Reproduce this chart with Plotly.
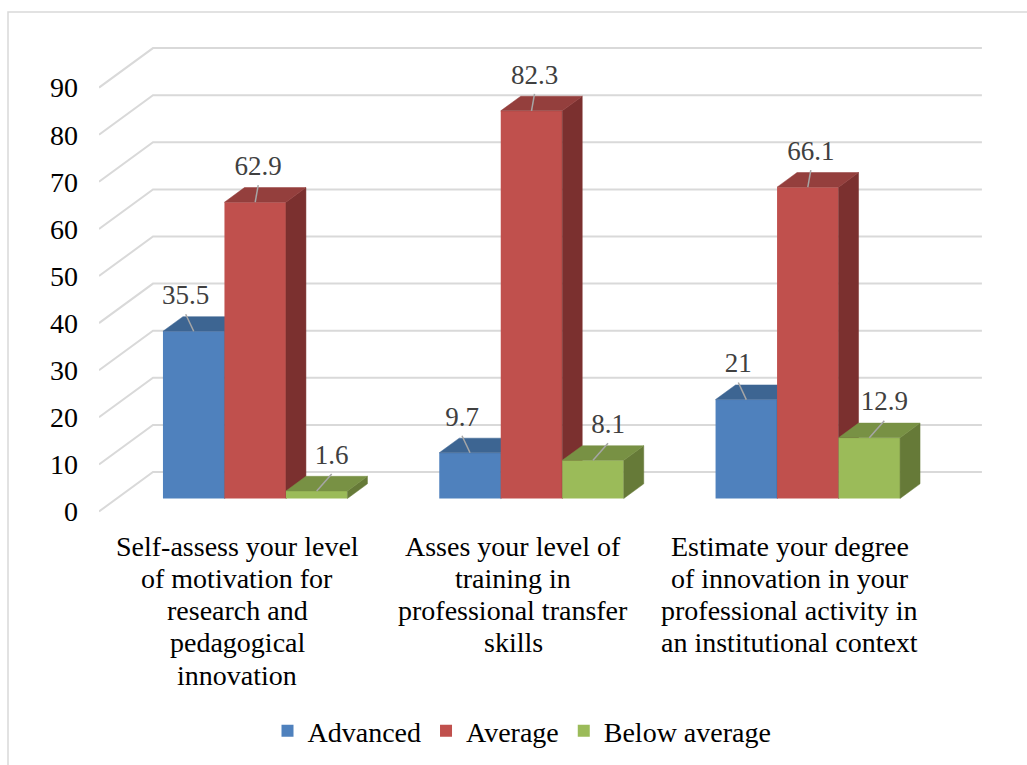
import plotly.graph_objects as go

# ---- data -------------------------------------------------------------
category_lines = [
    ["Self-assess your level", "of motivation for", "research and", "pedagogical", "innovation"],
    ["Asses your level of", "training in", "professional transfer", "skills"],
    ["Estimate your degree", "of innovation in your", "professional activity in", "an institutional context"],
]
series_names = ["Advanced", "Average", "Below average"]
advanced = [35.5, 9.7, 21]
average = [62.9, 82.3, 66.1]
below_average = [1.6, 8.1, 12.9]
y_ticks = [0, 10, 20, 30, 40, 50, 60, 70, 80, 90]

series_values = [advanced, average, below_average]

# ---- styling ----------------------------------------------------------
FONT = "Liberation Serif"
front_colors = ["#4F81BD", "#C0504D", "#9BBB59"]
top_colors = ["#3D6592", "#943F3D", "#789144"]
side_colors = ["#395D88", "#7B302F", "#667A38"]
GRID = "#D9D9D9"

W, H = 1027, 765
PL, PR, PT, PB = 99, 1000, 20, 530          # plot area in page pixels
X0, UPX = 99.0, 276.3                       # front-plane origin / px per category
Y0, VPX = 511.5, 4.71                       # front-plane zero / px per value unit

DXU = 54 / UPX                              # full depth offset, category units
DYV = 39.5 / VPX                            # full depth offset, value units
F0 = 0.33                                   # depth where bar fronts sit
DD = 0.37                                   # bar depth (fraction of full depth)
GROUP_L = 0.167                             # left edge of bar group in category
BW = 61.5 / UPX                             # bar width

x_range = [(PL - X0) / UPX, (PR - X0) / UPX]
y_range = [(Y0 - PB) / VPX, (Y0 - PT) / VPX]


def px_to_paper_x(px):
    return (px - PL) / (PR - PL)


def px_to_paper_y(py):
    return (PB - py) / (PB - PT)


fig = go.Figure()

# ---- back wall gridlines with receding diagonals -----------------------
gx, gy = [], []
for v in y_ticks:
    gx += [0, DXU, len(category_lines) + DXU, None]
    gy += [v, v + DYV, v + DYV, None]
fig.add_trace(go.Scatter(x=gx, y=gy, mode="lines", line=dict(color=GRID, width=2),
                         showlegend=False, hoverinfo="skip", xaxis="x", yaxis="y"))

# ---- 3D bars, one overlaid subplot per series (drawn left to right) ----
base = F0 * DYV
label_dx_px = [-8, 3, 15]
lab_x, lab_y, lab_t = [], [], []
lead_x, lead_y = [], []

for s, (name, vals) in enumerate(zip(series_names, series_values)):
    ax_id = str(s + 2)
    xa, ya = "x" + ax_id, "y" + ax_id
    centers = [i + GROUP_L + (s + 0.5) * BW + F0 * DXU for i in range(len(vals))]

    fig.add_trace(go.Bar(x=centers, y=vals, base=[base] * len(vals), width=BW,
                         name=name, marker=dict(color=front_colors[s], line=dict(width=0)),
                         xaxis=xa, yaxis=ya, hoverinfo="skip"))

    tx, ty, sx, sy = [], [], [], []
    for xc, v in zip(centers, vals):
        xl, xr, top = xc - BW / 2, xc + BW / 2, base + v
        ddx, ddy = DD * DXU, DD * DYV
        tx += [xl, xr, xr + ddx, xl + ddx, xl, None]
        ty += [top, top, top + ddy, top + ddy, top, None]
        sx += [xr, xr, xr + ddx, xr + ddx, xr, None]
        sy += [base, top, top + ddy, base + ddy, base, None]

        lx = xc + label_dx_px[s] / UPX
        ly = top + 34 / VPX
        lab_x.append(lx)
        lab_y.append(ly)
        lab_t.append(f"{v:g}")
        lead_x += [xc, lx, None]
        lead_y += [top, ly - 17 / VPX, None]

    fig.add_trace(go.Scatter(x=sx, y=sy, mode="lines", fill="toself",
                             fillcolor=side_colors[s], line=dict(color=side_colors[s], width=0.5),
                             showlegend=False, hoverinfo="skip", xaxis=xa, yaxis=ya))
    fig.add_trace(go.Scatter(x=tx, y=ty, mode="lines", fill="toself",
                             fillcolor=top_colors[s], line=dict(color=top_colors[s], width=0.5),
                             showlegend=False, hoverinfo="skip", xaxis=xa, yaxis=ya))

# ---- data labels with leader lines (top layer) -------------------------
fig.add_trace(go.Scatter(x=lead_x, y=lead_y, mode="lines", line=dict(color="#A6A6A6", width=1.5),
                         showlegend=False, hoverinfo="skip", xaxis="x5", yaxis="y5"))
fig.add_trace(go.Scatter(x=lab_x, y=lab_y, mode="text", text=lab_t,
                         textfont=dict(family=FONT, size=27, color="#404040"),
                         textposition="middle center", showlegend=False, hoverinfo="skip",
                         xaxis="x5", yaxis="y5"))

# ---- category labels, one annotation per line ---------------------------
annotations = []
for i, lines in enumerate(category_lines):
    cx = i + 0.5
    for k, line in enumerate(lines):
        annotations.append(dict(
            x=cx, xref="x", y=px_to_paper_y(546 + 32.3 * k), yref="paper",
            text=line, showarrow=False, xanchor="center", yanchor="middle",
            font=dict(family=FONT, size=28, color="#000000")))

hidden_x = dict(range=x_range, visible=False, overlaying="x", fixedrange=True)
hidden_y = dict(range=y_range, visible=False, overlaying="y", fixedrange=True)

fig.update_layout(
    width=W, height=H,
    margin=dict(l=PL, r=W - PR, t=PT, b=H - PB, pad=0, autoexpand=False),
    paper_bgcolor="white", plot_bgcolor="rgba(0,0,0,0)",
    font=dict(family=FONT, size=28, color="#000000"),
    hovermode=False,
    xaxis=dict(range=x_range, visible=False, fixedrange=True),
    yaxis=dict(range=y_range, tickmode="array", tickvals=y_ticks,
               ticktext=[str(t) for t in y_ticks], showgrid=False, zeroline=False,
               showline=False, ticks="", ticklabelstandoff=20,
               tickfont=dict(family=FONT, size=28, color="#000000"), fixedrange=True),
    xaxis2=hidden_x, yaxis2=hidden_y,
    xaxis3=hidden_x, yaxis3=hidden_y,
    xaxis4=hidden_x, yaxis4=hidden_y,
    xaxis5=hidden_x, yaxis5=hidden_y,
    showlegend=True,
    legend=dict(orientation="h", x=px_to_paper_x(522), xanchor="center",
                y=px_to_paper_y(731), yanchor="middle",
                font=dict(family=FONT, size=28, color="#000000"),
                bgcolor="rgba(0,0,0,0)", traceorder="normal"),
    annotations=annotations,
    shapes=[dict(type="rect", xref="paper", yref="paper",
                 x0=px_to_paper_x(8), x1=px_to_paper_x(1060),
                 y0=px_to_paper_y(800), y1=px_to_paper_y(12),
                 line=dict(color="#D9D9D9", width=1.5), fillcolor="rgba(0,0,0,0)",
                 layer="below")],
)

fig.write_html("out.html")
